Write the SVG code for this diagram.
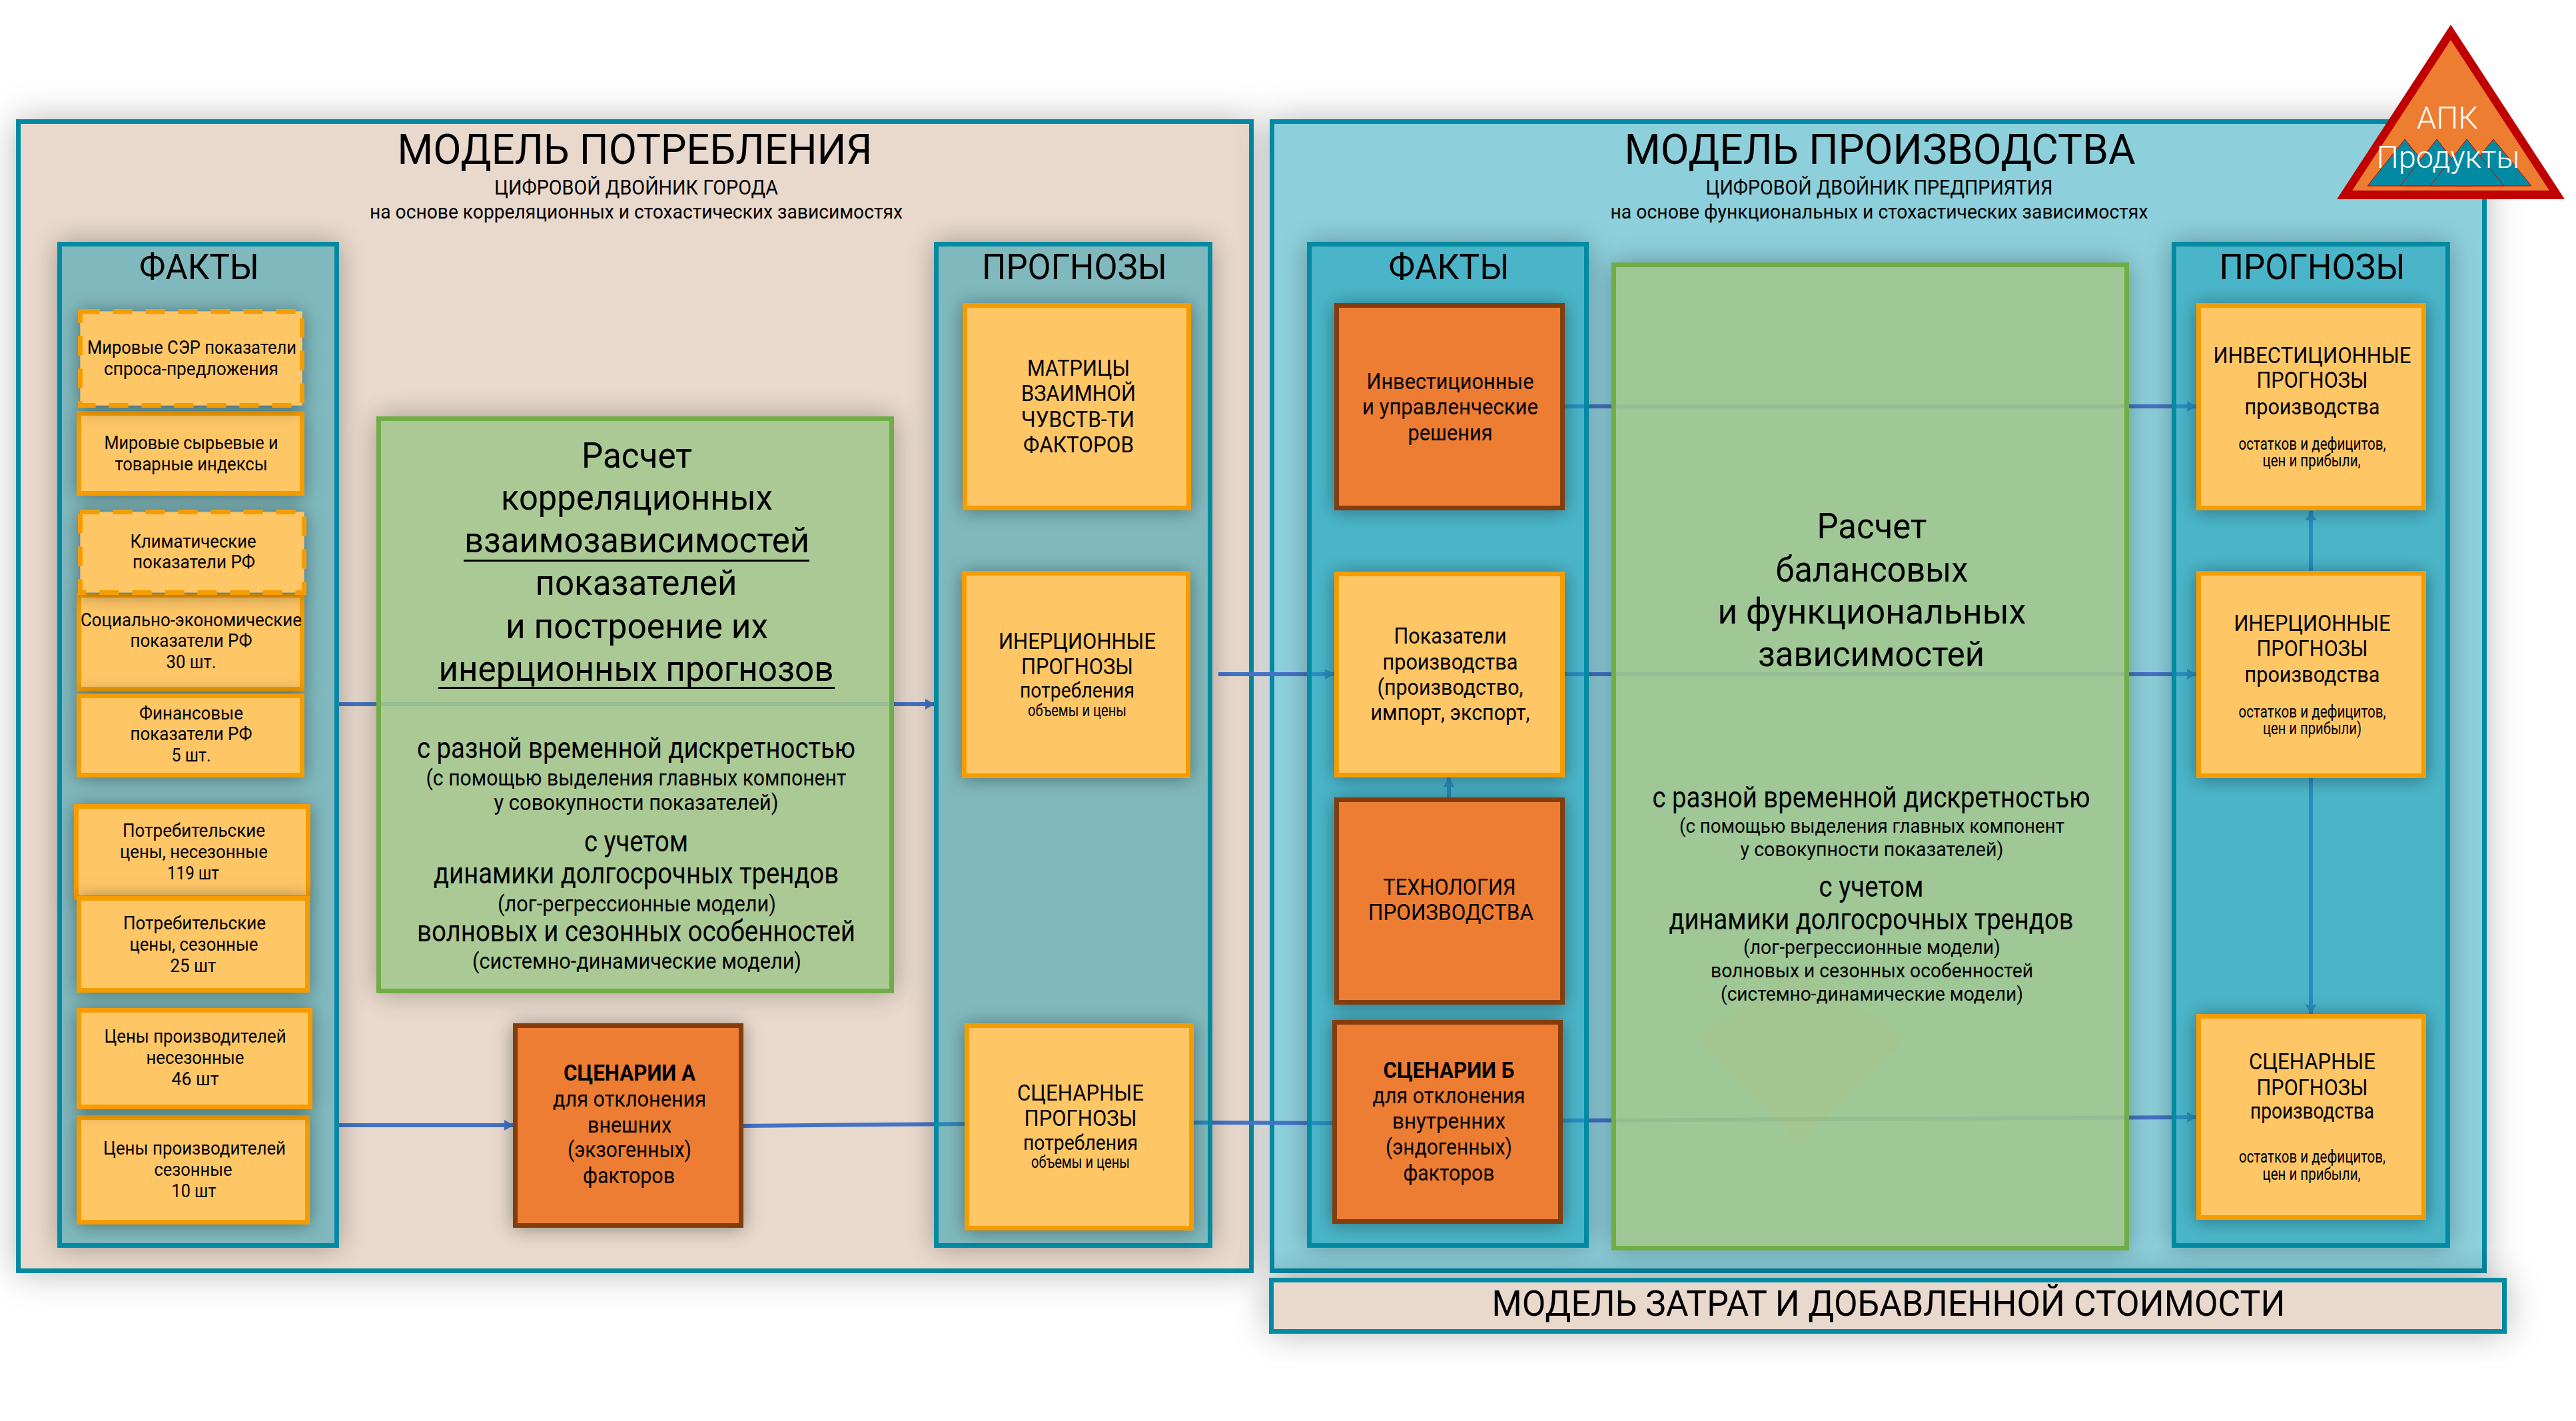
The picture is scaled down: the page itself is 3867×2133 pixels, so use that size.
<svg xmlns="http://www.w3.org/2000/svg" width="3867" height="2133" viewBox="0 0 3867 2133">
<defs>
<style>
text{font-family:Roboto,"Noto Sans",sans-serif;text-anchor:middle;fill:#000}
.s22{font-size:25px}.s27{font-size:28px}.s29{font-size:30px}.s31{font-size:32px}.s33{font-size:34px}.s42{font-size:44px}.s51{font-size:53px}.s52{font-size:54px}.s61{font-size:63px}
.b{font-weight:700}.w{fill:#fff;font-weight:300;font-size:47px}
.outer{fill:#e9d9cc;stroke:#038aa3;stroke-width:7;filter:url(#shO)}
.outerB{fill:#8dd0dc;stroke:#038aa3;stroke-width:7;filter:url(#shO)}
.panel{fill:#16a1ba;fill-opacity:.56;stroke:#038aa3;stroke-width:7}
.panelL{fill:#1799ae;fill-opacity:.5;stroke:#038aa3;stroke-width:7}
.green{fill:#a2c78b;fill-opacity:.87;stroke:#70ad47;stroke-width:7}
.sh{fill:#000;filter:url(#shP)}
.y{fill:#ffc666;stroke:#f59d00;stroke-width:7;filter:url(#shB)}
.yd{fill:#ffc666;stroke:#f59d00;stroke-width:7;stroke-dasharray:29 20;filter:url(#shB)}
.o{fill:#ed7d31;stroke:#843c0c;stroke-width:7;filter:url(#shB)}
.c{fill:none;stroke:#4472c4;stroke-width:6}
.a{marker-end:url(#arr)}
.m{fill:#038aa3;stroke:#c00000;stroke-width:1}
</style>
<filter id="shO" x="-10%" y="-60%" width="120%" height="220%"><feDropShadow dx="0" dy="0" stdDeviation="26" flood-color="#000" flood-opacity=".28"/></filter>
<filter id="shB" x="-30%" y="-30%" width="160%" height="160%"><feDropShadow dx="0" dy="2" stdDeviation="14" flood-color="#000" flood-opacity=".38"/></filter>
<filter id="shP" x="-25%" y="-15%" width="150%" height="130%"><feGaussianBlur in="SourceAlpha" stdDeviation="20" result="b"/><feComponentTransfer in="b" result="d"><feFuncA type="linear" slope=".3"/></feComponentTransfer><feComposite in="d" in2="SourceAlpha" operator="out"/></filter>
<marker id="arr" viewBox="0 0 14 16" refX="14" refY="8" markerWidth="14" markerHeight="16" markerUnits="userSpaceOnUse" orient="auto"><path d="M0 0L14 8L0 16z" fill="#4472c4"/></marker>
</defs>
<rect width="3867" height="2133" fill="#fff"/>

<g id="model-consumption-bg"><rect class="outer" x="27.5" y="182.5" width="1851" height="1725"/></g>
<g id="model-production-bg"><rect class="outerB" x="1909.5" y="182.5" width="1820" height="1725"/></g>
<g id="model-cost"><rect fill="#e9d9cc" stroke="#038aa3" stroke-width="7" style="filter:url(#shO)" x="1908.5" y="1921.5" width="1851" height="77"/>
<text class="s52" x="2835" y="1975" textLength="1191" lengthAdjust="spacingAndGlyphs">МОДЕЛЬ ЗАТРАТ И ДОБАВЛЕННОЙ СТОИМОСТИ</text></g>

<g id="connectors">
<path class="c a" d="M506 1057H1403"/>
<path class="c a" d="M506 1689H771"/>
<path class="c" d="M1116 1690L1450 1687"/>
<path class="c" d="M1792 1685L2001 1686"/>
<path class="c a" d="M1829 1012H2003"/>
<path class="c a" d="M2349 610H3297"/>
<path class="c a" d="M2349 1012H3297"/>
<path class="c a" d="M2346 1682L3297 1677"/>
<path class="c a" d="M2175 1197V1167"/>
<path class="c a" d="M3469 858V767"/>
<path class="c a" d="M3469 1168V1522"/>
</g>

<g id="titles">
<text class="s61" x="953" y="246" textLength="713" lengthAdjust="spacingAndGlyphs">МОДЕЛЬ ПОТРЕБЛЕНИЯ</text>
<text class="s31" x="955" y="292" textLength="426" lengthAdjust="spacingAndGlyphs">ЦИФРОВОЙ ДВОЙНИК ГОРОДА</text>
<text class="s29" x="955" y="328" textLength="800" lengthAdjust="spacingAndGlyphs">на основе корреляционных и стохастических зависимостях</text>
<text class="s61" x="2822" y="246" textLength="767" lengthAdjust="spacingAndGlyphs">МОДЕЛЬ ПРОИЗВОДСТВА</text>
<text class="s31" x="2821" y="292" textLength="521" lengthAdjust="spacingAndGlyphs">ЦИФРОВОЙ ДВОЙНИК ПРЕДПРИЯТИЯ</text>
<text class="s29" x="2821" y="328" textLength="807" lengthAdjust="spacingAndGlyphs">на основе функциональных и стохастических зависимостях</text>
</g>

<g id="panel-facts-left"><rect class="sh" x="86" y="363" width="423" height="1510"/><rect class="panelL" x="89.5" y="366.5" width="416" height="1503"/>
<text class="s51" x="299" y="419" textLength="180" lengthAdjust="spacingAndGlyphs">ФАКТЫ</text></g>
<g id="panel-forecast-left"><rect class="sh" x="1402" y="363" width="418" height="1510"/><rect class="panelL" x="1405.5" y="366.5" width="411" height="1503"/>
<text class="s51" x="1613" y="419" textLength="278" lengthAdjust="spacingAndGlyphs">ПРОГНОЗЫ</text></g>
<g id="panel-facts-right"><rect class="sh" x="1962" y="363" width="423" height="1510"/><rect class="panel" x="1965.5" y="366.5" width="416" height="1503"/>
<text class="s51" x="2175" y="419" textLength="181" lengthAdjust="spacingAndGlyphs">ФАКТЫ</text></g>
<g id="panel-forecast-right"><rect class="sh" x="3260" y="363" width="418" height="1510"/><rect class="panel" x="3263.5" y="366.5" width="411" height="1503"/>
<text class="s51" x="3471" y="419" textLength="279" lengthAdjust="spacingAndGlyphs">ПРОГНОЗЫ</text></g>

<g id="fact-world-commodities"><rect class="y" x="118.5" y="620.5" width="335" height="120"/>
<text class="s27" x="287" y="674" textLength="261" lengthAdjust="spacingAndGlyphs">Мировые сырьевые и</text>
<text class="s27" x="287" y="706" textLength="229" lengthAdjust="spacingAndGlyphs">товарные индексы</text></g>
<g id="fact-world-ser"><rect class="yd" x="120.5" y="467.5" width="333" height="141"/>
<text class="s27" x="288" y="531" textLength="314" lengthAdjust="spacingAndGlyphs">Мировые СЭР показатели</text>
<text class="s27" x="287" y="563" textLength="262" lengthAdjust="spacingAndGlyphs">спроса-предложения</text></g>
<g id="fact-socio"><rect class="y" x="118.5" y="893.5" width="335" height="141"/>
<text class="s27" x="287" y="940" textLength="332" lengthAdjust="spacingAndGlyphs">Социально-экономические</text>
<text class="s27" x="287" y="971" textLength="183" lengthAdjust="spacingAndGlyphs">показатели РФ</text>
<text class="s27" x="287" y="1003" textLength="75" lengthAdjust="spacingAndGlyphs">30 шт.</text></g>
<g id="fact-finance"><rect class="y" x="118.5" y="1044.5" width="335" height="119"/>
<text class="s27" x="287" y="1080" textLength="156" lengthAdjust="spacingAndGlyphs">Финансовые</text>
<text class="s27" x="287" y="1111" textLength="183" lengthAdjust="spacingAndGlyphs">показатели РФ</text>
<text class="s27" x="287" y="1143" textLength="59" lengthAdjust="spacingAndGlyphs">5 шт.</text></g>
<g id="fact-climate"><rect class="yd" x="120.5" y="768.5" width="336" height="121"/>
<text class="s27" x="290" y="822" textLength="189" lengthAdjust="spacingAndGlyphs">Климатические</text>
<text class="s27" x="291" y="853" textLength="184" lengthAdjust="spacingAndGlyphs">показатели РФ</text></g>
<g id="fact-cpi-nonseasonal"><rect class="y" x="114.5" y="1210.5" width="348" height="137"/>
<text class="s27" x="291" y="1256" textLength="214" lengthAdjust="spacingAndGlyphs">Потребительские</text>
<text class="s27" x="291" y="1288" textLength="222" lengthAdjust="spacingAndGlyphs">цены, несезонные</text>
<text class="s27" x="290" y="1320" textLength="78" lengthAdjust="spacingAndGlyphs">119 шт</text></g>
<g id="fact-cpi-seasonal"><rect class="y" x="118.5" y="1348.5" width="343" height="138"/>
<text class="s27" x="292" y="1395" textLength="214" lengthAdjust="spacingAndGlyphs">Потребительские</text>
<text class="s27" x="291" y="1427" textLength="193" lengthAdjust="spacingAndGlyphs">цены, сезонные</text>
<text class="s27" x="290" y="1459" textLength="69" lengthAdjust="spacingAndGlyphs">25 шт</text></g>
<g id="fact-ppi-seasonal"><rect class="y" x="118.5" y="1677.5" width="343" height="157"/>
<text class="s27" x="292" y="1733" textLength="274" lengthAdjust="spacingAndGlyphs">Цены производителей</text>
<text class="s27" x="290" y="1765" textLength="117" lengthAdjust="spacingAndGlyphs">сезонные</text>
<text class="s27" x="291" y="1797" textLength="67" lengthAdjust="spacingAndGlyphs">10 шт</text></g>
<g id="fact-ppi-nonseasonal"><rect class="y" x="118.5" y="1516.5" width="347" height="145"/>
<text class="s27" x="293" y="1565" textLength="273" lengthAdjust="spacingAndGlyphs">Цены производителей</text>
<text class="s27" x="293" y="1597" textLength="147" lengthAdjust="spacingAndGlyphs">несезонные</text>
<text class="s27" x="293" y="1629" textLength="71" lengthAdjust="spacingAndGlyphs">46 шт</text></g>

<g id="calc-correlation"><rect class="sh" x="565" y="625" width="777" height="866"/><rect class="green" x="568.5" y="628.5" width="770" height="859"/>
<text class="s52" x="956" y="702" textLength="166" lengthAdjust="spacingAndGlyphs">Расчет</text>
<text class="s52" x="956" y="765" textLength="408" lengthAdjust="spacingAndGlyphs">корреляционных</text>
<text class="s52" x="956" y="829" textLength="518" lengthAdjust="spacingAndGlyphs">взаимозависимостей</text>
<rect x="696" y="840" width="519" height="3"/>
<text class="s52" x="955" y="893" textLength="303" lengthAdjust="spacingAndGlyphs">показателей</text>
<text class="s52" x="956" y="958" textLength="394" lengthAdjust="spacingAndGlyphs">и построение их</text>
<text class="s52" x="955" y="1022" textLength="593" lengthAdjust="spacingAndGlyphs">инерционных прогнозов</text>
<rect x="658" y="1031" width="595" height="3"/>
<text class="s42" x="955" y="1138" textLength="658" lengthAdjust="spacingAndGlyphs">с разной временной дискретностью</text>
<text class="s33" x="955" y="1179" textLength="631" lengthAdjust="spacingAndGlyphs">(с помощью выделения главных компонент</text>
<text class="s33" x="955" y="1216" textLength="427" lengthAdjust="spacingAndGlyphs">у совокупности показателей)</text>
<text class="s42" x="955" y="1278" textLength="156" lengthAdjust="spacingAndGlyphs">с учетом</text>
<text class="s42" x="955" y="1326" textLength="608" lengthAdjust="spacingAndGlyphs">динамики долгосрочных трендов</text>
<text class="s33" x="956" y="1368" textLength="418" lengthAdjust="spacingAndGlyphs">(лог-регрессионные модели)</text>
<text class="s42" x="955" y="1413" textLength="658" lengthAdjust="spacingAndGlyphs">волновых и сезонных особенностей</text>
<text class="s33" x="956" y="1454" textLength="494" lengthAdjust="spacingAndGlyphs">(системно-динамические модели)</text></g>

<g id="scenario-a"><rect class="o" x="773.5" y="1539.5" width="339" height="300"/>
<text class="s33 b" x="945" y="1622" textLength="198" lengthAdjust="spacingAndGlyphs">СЦЕНАРИИ А</text>
<text class="s33" x="945" y="1661" textLength="230" lengthAdjust="spacingAndGlyphs">для отклонения</text>
<text class="s33" x="945" y="1700" textLength="126" lengthAdjust="spacingAndGlyphs">внешних</text>
<text class="s33" x="945" y="1737" textLength="186" lengthAdjust="spacingAndGlyphs">(экзогенных)</text>
<text class="s33" x="944" y="1776" textLength="138" lengthAdjust="spacingAndGlyphs">факторов</text></g>

<g id="forecast-matrix"><rect class="y" x="1448.5" y="458.5" width="336" height="304"/>
<text class="s33" x="1619" y="564" textLength="154" lengthAdjust="spacingAndGlyphs">МАТРИЦЫ</text>
<text class="s33" x="1619" y="602" textLength="172" lengthAdjust="spacingAndGlyphs">ВЗАИМНОЙ</text>
<text class="s33" x="1618" y="641" textLength="170" lengthAdjust="spacingAndGlyphs">ЧУВСТВ-ТИ</text>
<text class="s33" x="1619" y="679" textLength="166" lengthAdjust="spacingAndGlyphs">ФАКТОРОВ</text></g>
<g id="forecast-inertial-left"><rect class="y" x="1447.5" y="860.5" width="336" height="304"/>
<text class="s33" x="1617" y="974" textLength="236" lengthAdjust="spacingAndGlyphs">ИНЕРЦИОННЫЕ</text>
<text class="s33" x="1617" y="1012" textLength="168" lengthAdjust="spacingAndGlyphs">ПРОГНОЗЫ</text>
<text class="s31" x="1617" y="1047" textLength="172" lengthAdjust="spacingAndGlyphs">потребления</text>
<text class="s22" x="1617" y="1075" textLength="148" lengthAdjust="spacingAndGlyphs">объемы и цены</text></g>
<g id="forecast-scenario-left"><rect class="y" x="1451.5" y="1539.5" width="337" height="304"/>
<text class="s33" x="1622" y="1652" textLength="190" lengthAdjust="spacingAndGlyphs">СЦЕНАРНЫЕ</text>
<text class="s33" x="1622" y="1690" textLength="169" lengthAdjust="spacingAndGlyphs">ПРОГНОЗЫ</text>
<text class="s31" x="1622" y="1726" textLength="172" lengthAdjust="spacingAndGlyphs">потребления</text>
<text class="s22" x="1622" y="1753" textLength="148" lengthAdjust="spacingAndGlyphs">объемы и цены</text></g>

<g id="fact-investment"><rect class="o" x="2006.5" y="458.5" width="339" height="304"/>
<text class="s33" x="2177" y="584" textLength="251" lengthAdjust="spacingAndGlyphs">Инвестиционные</text>
<text class="s33" x="2177" y="622" textLength="264" lengthAdjust="spacingAndGlyphs">и управленческие</text>
<text class="s33" x="2177" y="661" textLength="127" lengthAdjust="spacingAndGlyphs">решения</text></g>
<g id="fact-production"><rect class="y" x="2006.5" y="861.5" width="339" height="302"/>
<text class="s33" x="2177" y="966" textLength="169" lengthAdjust="spacingAndGlyphs">Показатели</text>
<text class="s33" x="2177" y="1005" textLength="203" lengthAdjust="spacingAndGlyphs">производства</text>
<text class="s33" x="2177" y="1043" textLength="219" lengthAdjust="spacingAndGlyphs">(производство,</text>
<text class="s33" x="2177" y="1081" textLength="239" lengthAdjust="spacingAndGlyphs">импорт, экспорт,</text></g>
<g id="fact-technology"><rect class="o" x="2006.5" y="1200.5" width="339" height="304"/>
<text class="s33" x="2176" y="1343" textLength="199" lengthAdjust="spacingAndGlyphs">ТЕХНОЛОГИЯ</text>
<text class="s33" x="2178" y="1381" textLength="248" lengthAdjust="spacingAndGlyphs">ПРОИЗВОДСТВА</text></g>
<g id="scenario-b"><rect class="o" x="2003.5" y="1534.5" width="339" height="299"/>
<text class="s33 b" x="2175" y="1618" textLength="197" lengthAdjust="spacingAndGlyphs">СЦЕНАРИИ Б</text>
<text class="s33" x="2175" y="1656" textLength="229" lengthAdjust="spacingAndGlyphs">для отклонения</text>
<text class="s33" x="2175" y="1694" textLength="170" lengthAdjust="spacingAndGlyphs">внутренних</text>
<text class="s33" x="2175" y="1733" textLength="190" lengthAdjust="spacingAndGlyphs">(эндогенных)</text>
<text class="s33" x="2175" y="1772" textLength="137" lengthAdjust="spacingAndGlyphs">факторов</text></g>

<g id="calc-balance"><rect class="sh" x="2419" y="394" width="777" height="1483"/><rect class="green" x="2422.5" y="397.5" width="770" height="1476"/>
<polygon points="2547,1559 2702,1450 2860,1559 2702,1715" fill="#d8a868" fill-opacity=".09"/>
<text class="s52" x="2810" y="808" textLength="165" lengthAdjust="spacingAndGlyphs">Расчет</text>
<text class="s52" x="2810" y="873" textLength="289" lengthAdjust="spacingAndGlyphs">балансовых</text>
<text class="s52" x="2810" y="936" textLength="463" lengthAdjust="spacingAndGlyphs">и функциональных</text>
<text class="s52" x="2809" y="1000" textLength="340" lengthAdjust="spacingAndGlyphs">зависимостей</text>
<text class="s42" x="2809" y="1212" textLength="657" lengthAdjust="spacingAndGlyphs">с разной временной дискретностью</text>
<text class="s29" x="2810" y="1250" textLength="578" lengthAdjust="spacingAndGlyphs">(с помощью выделения главных компонент</text>
<text class="s29" x="2810" y="1285" textLength="395" lengthAdjust="spacingAndGlyphs">у совокупности показателей)</text>
<text class="s42" x="2809" y="1346" textLength="157" lengthAdjust="spacingAndGlyphs">с учетом</text>
<text class="s42" x="2809" y="1395" textLength="607" lengthAdjust="spacingAndGlyphs">динамики долгосрочных трендов</text>
<text class="s29" x="2810" y="1432" textLength="386" lengthAdjust="spacingAndGlyphs">(лог-регрессионные модели)</text>
<text class="s29" x="2810" y="1467" textLength="484" lengthAdjust="spacingAndGlyphs">волновых и сезонных особенностей</text>
<text class="s29" x="2810" y="1502" textLength="454" lengthAdjust="spacingAndGlyphs">(системно-динамические модели)</text></g>

<g id="forecast-investment"><rect class="y" x="3300.5" y="458.5" width="338" height="304"/>
<text class="s33" x="3471" y="545" textLength="297" lengthAdjust="spacingAndGlyphs">ИНВЕСТИЦИОННЫЕ</text>
<text class="s33" x="3471" y="582" textLength="167" lengthAdjust="spacingAndGlyphs">ПРОГНОЗЫ</text>
<text class="s33" x="3471" y="622" textLength="203" lengthAdjust="spacingAndGlyphs">производства</text>
<text class="s22" x="3471" y="675" textLength="221" lengthAdjust="spacingAndGlyphs">остатков и дефицитов,</text>
<text class="s22" x="3470" y="700" textLength="147" lengthAdjust="spacingAndGlyphs">цен и прибыли,</text></g>
<g id="forecast-inertial-right"><rect class="y" x="3300.5" y="860.5" width="338" height="304"/>
<text class="s33" x="3471" y="947" textLength="235" lengthAdjust="spacingAndGlyphs">ИНЕРЦИОННЫЕ</text>
<text class="s33" x="3471" y="985" textLength="167" lengthAdjust="spacingAndGlyphs">ПРОГНОЗЫ</text>
<text class="s33" x="3471" y="1024" textLength="203" lengthAdjust="spacingAndGlyphs">производства</text>
<text class="s22" x="3471" y="1077" textLength="221" lengthAdjust="spacingAndGlyphs">остатков и дефицитов,</text>
<text class="s22" x="3471" y="1102" textLength="148" lengthAdjust="spacingAndGlyphs">цен и прибыли)</text></g>
<g id="forecast-scenario-right"><rect class="y" x="3300.5" y="1525.5" width="338" height="302"/>
<text class="s33" x="3471" y="1605" textLength="190" lengthAdjust="spacingAndGlyphs">СЦЕНАРНЫЕ</text>
<text class="s33" x="3471" y="1644" textLength="167" lengthAdjust="spacingAndGlyphs">ПРОГНОЗЫ</text>
<text class="s33" x="3471" y="1679" textLength="186" lengthAdjust="spacingAndGlyphs">производства</text>
<text class="s22" x="3471" y="1745" textLength="220" lengthAdjust="spacingAndGlyphs">остатков и дефицитов,</text>
<text class="s22" x="3470" y="1771" textLength="147" lengthAdjust="spacingAndGlyphs">цен и прибыли,</text></g>

<g id="logo">
<polygon points="3679,37 3850,299 3508,299" fill="#c00000"/>
<polygon points="3679,60 3827,286 3531,286" fill="#ed7d31"/>
<polygon class="m" points="3610,209 3666,279 3554,279"/>
<polygon class="m" points="3658,209 3713,279 3603,279"/>
<polygon class="m" points="3743,209 3800,279 3686,279"/>
<polygon class="m" points="3703,209 3759,279 3648,279"/>
<text class="w" x="3674" y="193" textLength="92" lengthAdjust="spacingAndGlyphs">АПК</text>
<text class="w" x="3675" y="252" textLength="215" lengthAdjust="spacingAndGlyphs">Продукты</text>
</g>
</svg>
